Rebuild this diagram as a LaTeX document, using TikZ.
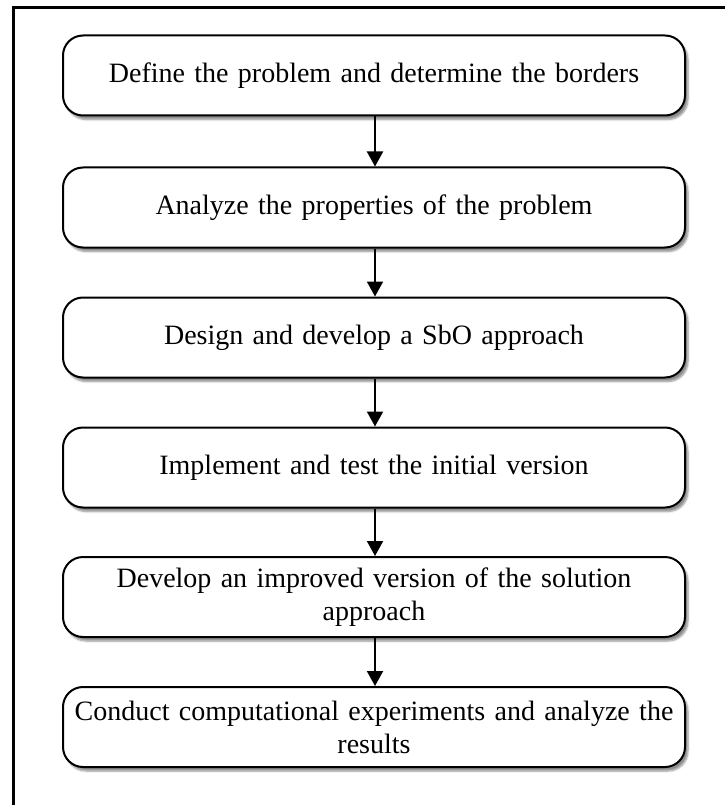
\documentclass[tikz,border=0pt]{standalone}
\usepackage{fontspec}
\setmainfont{Liberation Serif}
\usetikzlibrary{arrows.meta,shadows.blur}
\begin{document}
\begin{tikzpicture}[x=1pt,y=-1pt,
  stepbox/.style={draw=black, line width=2pt, fill=white, rounded corners=20pt,
    minimum width=622pt, minimum height=80pt, text width=612pt, align=center,
    inner sep=0pt, font=\fontsize{28pt}{33pt}\selectfont,
    blur shadow={shadow xshift=3pt, shadow yshift=-4pt, shadow opacity=45, shadow blur steps=6}},
  flow/.style={line width=2pt, -{Triangle[width=16pt,length=15pt]}}]
\useasboundingbox (0,0) rectangle (724,805);
\draw[line width=3pt] (13.5,806) -- (13.5,7.5) -- (725,7.5);
\node[stepbox] (s1) at (374,75.5) {Define the problem and determine the borders};
\node[stepbox] (s2) at (374,207.5) {Analyze the properties of the problem};
\node[stepbox] (s3) at (374,337.5) {Design and develop a SbO approach};
\node[stepbox] (s4) at (374,467.5) {Implement and test the initial version};
\node[stepbox] (s5) at (374,597) {Develop an improved version of the solution\\approach};
\node[stepbox] (s6) at (374,727) {Conduct computational experiments and analyze the\\results};
\draw[flow] (s1.south -| 375,0) -- (s2.north -| 375,0);
\draw[flow] (s2.south -| 375,0) -- (s3.north -| 375,0);
\draw[flow] (s3.south -| 375,0) -- (s4.north -| 375,0);
\draw[flow] (s4.south -| 375,0) -- (s5.north -| 375,0);
\draw[flow] (s5.south -| 375,0) -- (s6.north -| 375,0);
\end{tikzpicture}
\end{document}
